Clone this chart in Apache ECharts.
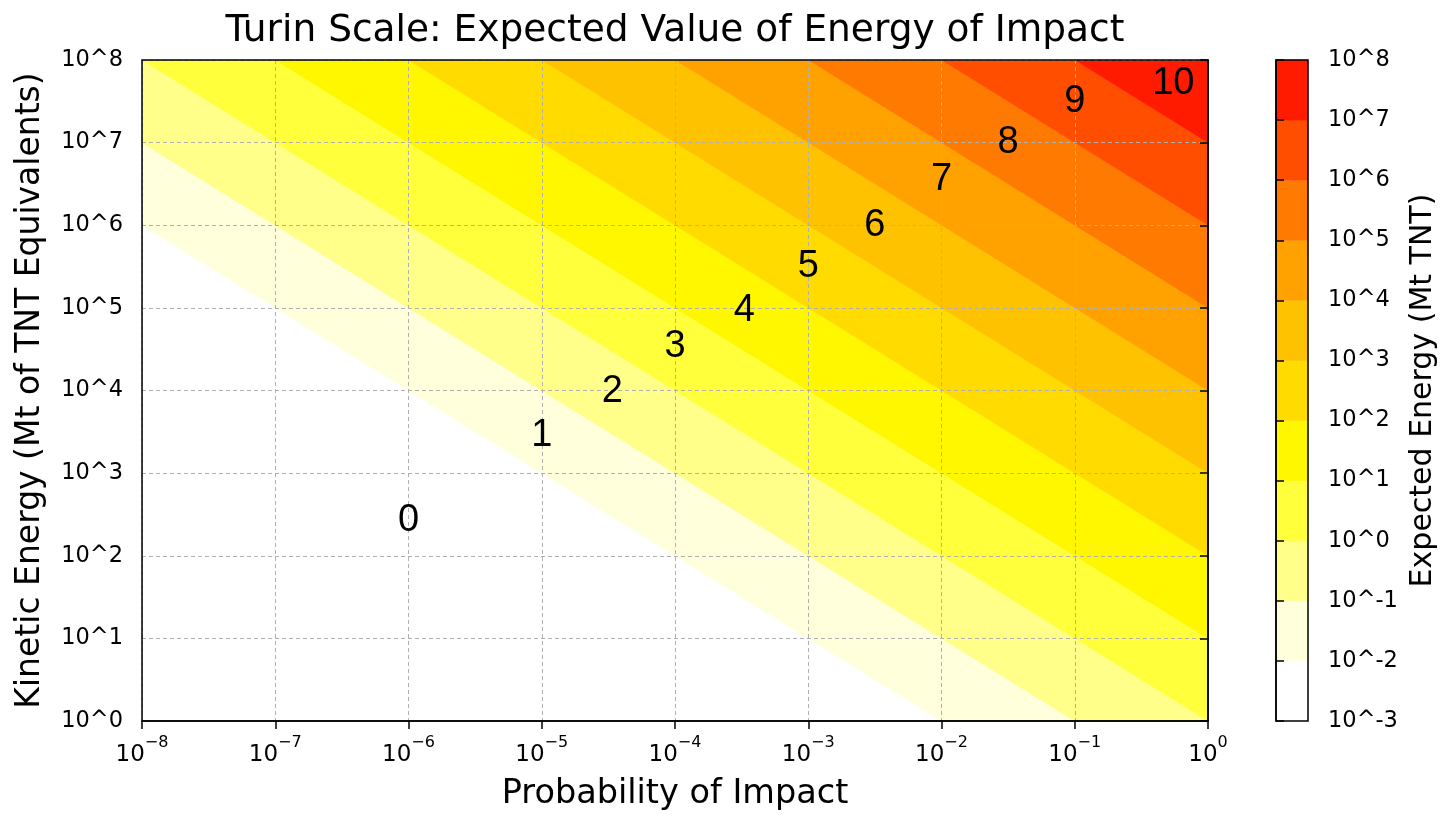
<!DOCTYPE html>
<html>
<head>
<meta charset="utf-8">
<script src="https://cdn.jsdelivr.net/npm/echarts@6/dist/echarts.min.js"></script>
<style>
html,body{margin:0;padding:0;background:#fff;}
#chart{width:1456px;height:830px;}
</style>
</head>
<body>
<div id="chart"></div>
<script>
// ---- data (exponents of ten) ----
const probExp = [-8, -7, -6, -5, -4, -3, -2, -1, 0];          // x ticks: Probability of Impact
const energyExp = [0, 1, 2, 3, 4, 5, 6, 7, 8];                 // y ticks: Kinetic Energy (Mt)
const levels = [-3, -2, -1, 0, 1, 2, 3, 4, 5, 6, 7, 8];        // contour levels of expected energy
const bandColors = ['#ffffff', '#ffffdc', '#ffff8a', '#ffff3c', '#fff700', '#ffdb00',
                    '#ffc200', '#ffa200', '#ff7a00', '#ff4e00', '#ff1b00'];
const turinLabels = ['0', '1', '2', '3', '4', '5', '6', '7', '8', '9', '10'];
const turinProb   = [-6, -5, -4.47, -4, -3.48, -3, -2.5, -2, -1.5, -1, -0.26];
const turinEnergy = [2.43, 3.46, 3.99, 4.53, 4.97, 5.5, 6.0, 6.55, 7.0, 7.5, 7.72];

const xMin = probExp[0], xMax = probExp[probExp.length - 1];
const yMin = energyExp[0], yMax = energyExp[energyExp.length - 1];

function clip(poly, f) {
  const out = [];
  for (let i = 0; i < poly.length; i++) {
    const a = poly[i], b = poly[(i + 1) % poly.length];
    const fa = f(a), fb = f(b);
    if (fa >= 0) out.push(a);
    if ((fa >= 0) !== (fb >= 0)) {
      const t = fa / (fa - fb);
      out.push([a[0] + t * (b[0] - a[0]), a[1] + t * (b[1] - a[1])]);
    }
  }
  return out;
}
function bandPolygon(lo, hi) {
  let poly = [[xMin, yMin], [xMax, yMin], [xMax, yMax], [xMin, yMax]];
  poly = clip(poly, p => p[0] + p[1] - lo);
  poly = clip(poly, p => hi - (p[0] + p[1]));
  return poly;
}

const FONT = 'DejaVu Sans';
const bandData = levels.slice(0, -1).map((lo, i) => [lo, levels[i + 1]]);
const turinData = turinLabels.map((t, i) => [turinProb[i], turinEnergy[i], t]);

const chart = echarts.init(document.getElementById('chart'), null, {renderer: 'canvas'});
chart.setOption({
  animation: false,
  backgroundColor: '#fff',
  graphic: [{
    type: 'text', x: 675, y: 31, z: 50,
    style: {text: 'Turin Scale: Expected Value of Energy of Impact', fill: '#000',
            font: '37.5px "DejaVu Sans"', align: 'center', verticalAlign: 'middle'}
  }],
  grid: [
    {left: 142, top: 60, width: 1066, height: 661, show: true, borderColor: '#000', borderWidth: 1.5, z: 15},
    {left: 1276, top: 60, width: 32, height: 661, show: true, borderColor: '#000', borderWidth: 1.5, z: 15}
  ],
  xAxis: [
    {
      type: 'value', gridIndex: 0, min: xMin, max: xMax, interval: 1, z: 10,
      name: 'Probability of Impact', nameLocation: 'middle', nameGap: 56,
      nameTextStyle: {fontFamily: FONT, fontSize: 33.5, color: '#000'},
      axisLine: {show: true, lineStyle: {color: '#000', width: 1.5}},
      axisTick: {show: true, length: 8, lineStyle: {color: '#000', width: 1.5}},
      splitLine: {show: true, lineStyle: {color: '#b0b0b0', width: 1, type: [4, 3]}},
      axisLabel: {
        margin: 14,
        formatter: v => '{b|10}{s|' + (v < 0 ? '\u2212' : '') + Math.abs(v) + '}',
        rich: {
          b: {fontFamily: FONT, fontSize: 23, color: '#000', lineHeight: 32, verticalAlign: 'bottom'},
          s: {fontFamily: FONT, fontSize: 16, color: '#000', lineHeight: 17, verticalAlign: 'top'}
        }
      }
    },
    {type: 'value', gridIndex: 1, min: 0, max: 1, show: false}
  ],
  yAxis: [
    {
      type: 'value', gridIndex: 0, min: yMin, max: yMax, interval: 1, z: 10,
      name: 'Kinetic Energy (Mt of TNT Equivalents)', nameLocation: 'middle', nameGap: 95,
      nameTextStyle: {fontFamily: FONT, fontSize: 33, color: '#000'},
      axisLine: {show: true, lineStyle: {color: '#000', width: 1.5}},
      axisTick: {show: true, length: 8, lineStyle: {color: '#000', width: 1.5}},
      splitLine: {show: true, lineStyle: {color: '#b0b0b0', width: 1, type: [4, 3]}},
      axisLabel: {margin: 19, fontFamily: FONT, fontSize: 22.5, color: '#000', formatter: v => '10^' + v}
    },
    {
      type: 'value', gridIndex: 1, min: levels[0], max: levels[levels.length - 1], interval: 1,
      position: 'right', z: 10,
      name: 'Expected Energy (Mt TNT)', nameLocation: 'middle', nameGap: 100, nameRotate: 90,
      nameTextStyle: {fontFamily: FONT, fontSize: 30, color: '#000'},
      axisLine: {show: true, lineStyle: {color: '#000', width: 1.5}},
      axisTick: {show: true, length: 8, lineStyle: {color: '#000', width: 1.5}},
      splitLine: {show: false},
      axisLabel: {margin: 20, fontFamily: FONT, fontSize: 22.5, color: '#000', formatter: v => '10^' + v}
    }
  ],
  series: [
    {
      type: 'custom', xAxisIndex: 0, yAxisIndex: 0, clip: true, z: 2,
      data: bandData,
      renderItem: (params, api) => {
        const i = params.dataIndex;
        const poly = bandPolygon(levels[i], levels[i + 1]);
        if (poly.length < 3) return null;
        return {
          type: 'polygon',
          shape: {points: poly.map(p => api.coord(p))},
          style: {fill: bandColors[i], stroke: bandColors[i], lineWidth: 0.6}
        };
      }
    },
    {
      type: 'custom', xAxisIndex: 1, yAxisIndex: 1, z: 2,
      data: bandData,
      renderItem: (params, api) => {
        const i = params.dataIndex;
        const p0 = api.coord([0, levels[i + 1]]);
        const p1 = api.coord([1, levels[i]]);
        return {
          type: 'rect',
          shape: {x: p0[0], y: p0[1], width: p1[0] - p0[0], height: p1[1] - p0[1]},
          style: {fill: bandColors[i], stroke: bandColors[i], lineWidth: 0.5}
        };
      }
    },
    {
      type: 'custom', xAxisIndex: 0, yAxisIndex: 0, z: 30,
      data: turinData,
      renderItem: (params, api) => {
        const p = api.coord([api.value(0), api.value(1)]);
        return {
          type: 'text', x: p[0], y: p[1], z2: 100,
          style: {text: turinLabels[params.dataIndex], fill: '#000',
                  font: '38px "Liberation Sans"', align: 'center', verticalAlign: 'middle'}
        };
      }
    }
  ]
});
</script>
</body>
</html>
